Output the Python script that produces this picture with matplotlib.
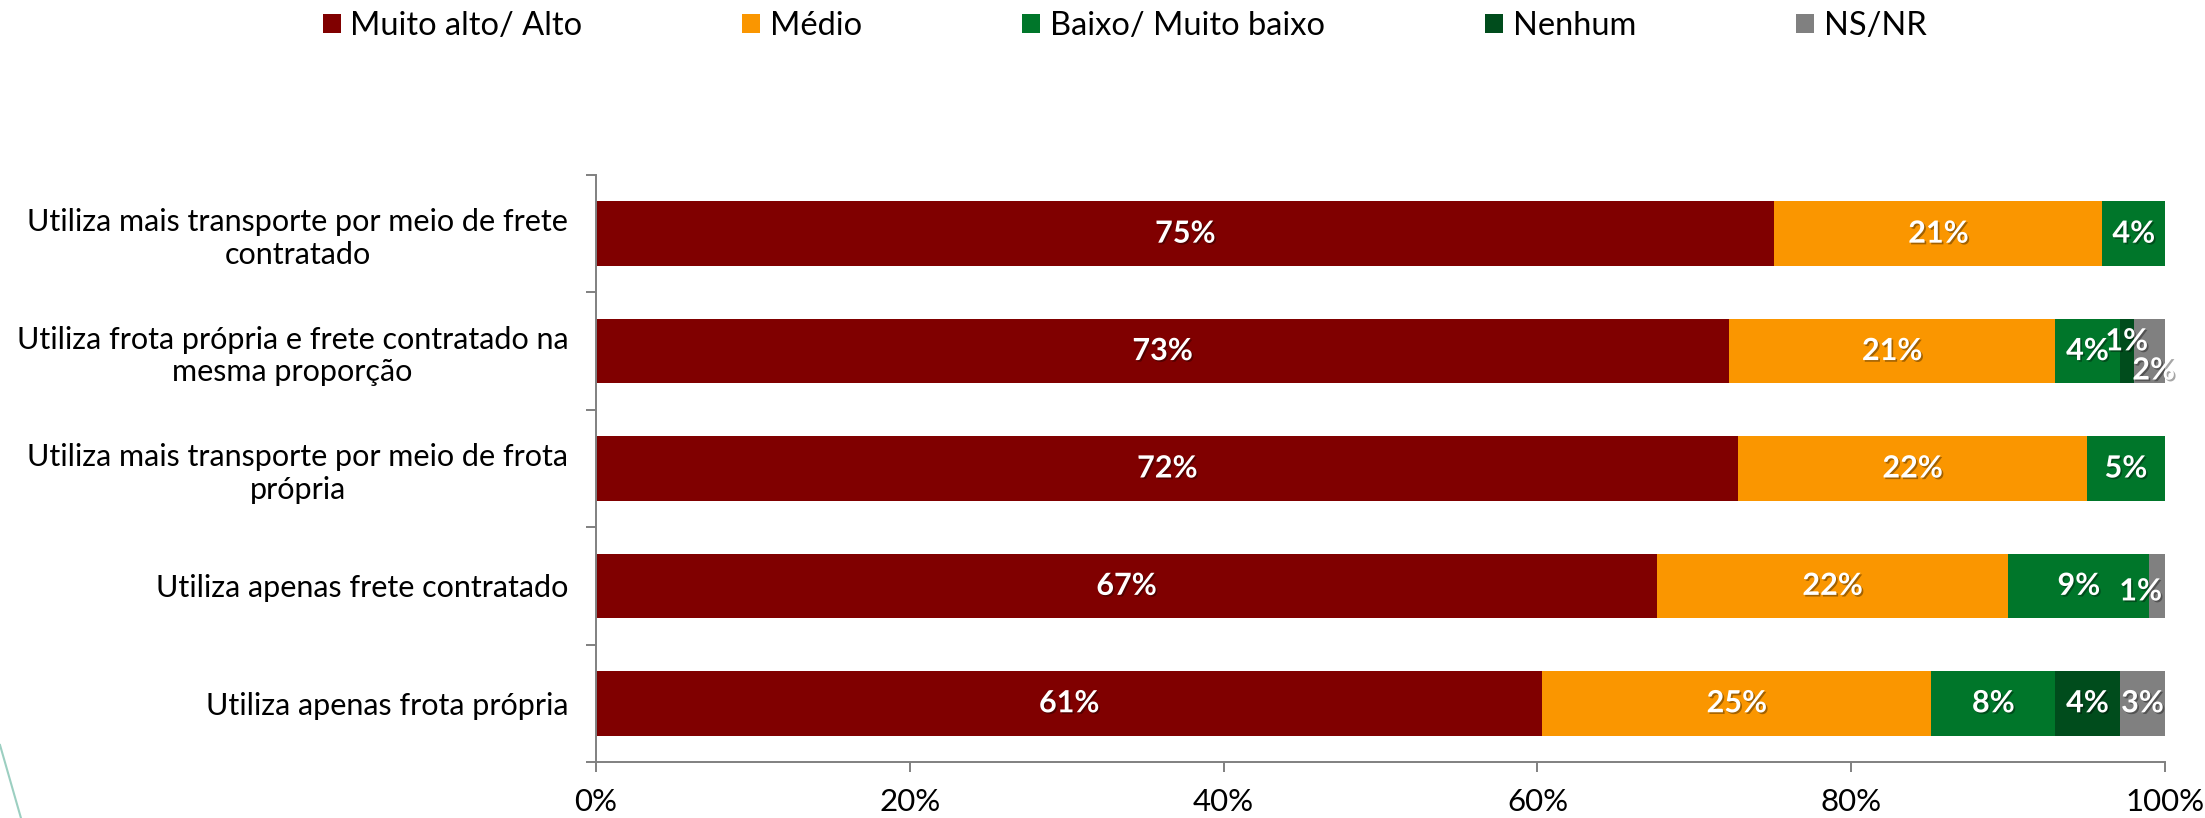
import matplotlib
matplotlib.use("Agg")
import matplotlib.pyplot as plt
import matplotlib.patheffects as pe
from matplotlib.patches import Patch
from matplotlib.lines import Line2D
import numpy as np

plt.rcParams['font.family'] = ['Lato', 'DejaVu Sans']

# ---- data ----
categories = [
    "Utiliza mais transporte por meio de frete\ncontratado",
    "Utiliza frota própria e frete contratado na\nmesma proporção",
    "Utiliza mais transporte por meio de frota\nprópria",
    "Utiliza apenas frete contratado",
    "Utiliza apenas frota própria",
]
series_names = ["Muito alto/ Alto", "Médio", "Baixo/ Muito baixo", "Nenhum", "NS/NR"]

muito_alto = [75.1, 72.2, 72.8, 67.6, 60.3]
medio = [20.9, 20.8, 22.2, 22.4, 24.8]
baixo = [4.0, 4.1, 5.0, 9.0, 7.9]
nenhum = [0.0, 0.9, 0.0, 0.0, 4.1]
nsnr = [0.0, 2.0, 0.0, 1.0, 2.9]

# printed labels (0 = no label)
lbl_muito_alto = [75, 73, 72, 67, 61]
lbl_medio = [21, 21, 22, 22, 25]
lbl_baixo = [4, 4, 5, 9, 8]
lbl_nenhum = [0, 1, 0, 0, 4]
lbl_nsnr = [0, 2, 0, 1, 3]

xticks = [0, 20, 40, 60, 80, 100]
xticklabels = ["0%", "20%", "40%", "60%", "80%", "100%"]

colors = ["#800000", "#FA9600", "#00762A", "#004C1C", "#808080"]

values = [muito_alto, medio, baixo, nenhum, nsnr]
labels = [lbl_muito_alto, lbl_medio, lbl_baixo, lbl_nenhum, lbl_nsnr]

# label nudges in points: (series index, row index) -> (dx, dy)
nudges = {(3, 1): (0, 7), (4, 1): (3, -14), (4, 3): (-12, -4)}

fig = plt.figure(figsize=(22.05, 8.18), dpi=100)
ax = fig.add_axes([0.2703, 0.0685, 0.7116, 0.7176])

y = np.arange(len(categories))
left = np.zeros(len(categories))
shadow = [pe.withSimplePatchShadow(offset=(1.2, -1.2), shadow_rgbFace="black", alpha=0.35)]
for si, (vals, col) in enumerate(zip(values, colors)):
    vals = np.array(vals)
    ax.barh(y, vals, left=left, height=0.55, color=col, edgecolor="none",
            label=series_names[si])
    for ri in range(len(categories)):
        lab = labels[si][ri]
        if lab:
            dx, dy = nudges.get((si, ri), (0, 0))
            ax.annotate(f"{lab}%", xy=(left[ri] + vals[ri] / 2, y[ri]),
                        xytext=(dx, dy), textcoords="offset points",
                        ha="center", va="center", color="white",
                        fontsize=22, fontweight="bold", path_effects=shadow)
    left = left + vals

ax.set_xlim(0, 100)
ax.set_ylim(len(categories) - 0.5, -0.5)

ax.set_xticks(xticks)
ax.set_xticklabels(xticklabels, fontsize=22.5)
ax.tick_params(axis="x", direction="out", length=7, width=1.4, color="#808080", pad=12)

ax.set_yticks(y)
ax.set_yticklabels(categories, fontsize=22, multialignment="center")
ax.tick_params(axis="y", which="major", length=0, pad=20)
ax.set_yticks(np.arange(-0.5, len(categories)), minor=True)
ax.tick_params(axis="y", which="minor", direction="out", length=7, width=1.4, color="#808080")

for s in ["top", "right"]:
    ax.spines[s].set_visible(False)
for s in ["left", "bottom"]:
    ax.spines[s].set_color("#808080")
    ax.spines[s].set_linewidth(1.4)

handles = [Patch(facecolor=c, edgecolor="none") for c in colors]
fig.legend(handles, series_names, loc="center", bbox_to_anchor=(0.510, 0.968),
           ncol=5, frameon=False, fontsize=23.5, handlelength=0.55, handleheight=0.55,
           handletextpad=0.3, columnspacing=4.9)

# slide decoration line at bottom-left
fig.add_artist(Line2D([0.0, 0.0095], [1 - 745 / 818, 0.0], transform=fig.transFigure,
                      color="#9ccfc1", linewidth=1.5))

fig.savefig("out.png", dpi=100, facecolor="white")
